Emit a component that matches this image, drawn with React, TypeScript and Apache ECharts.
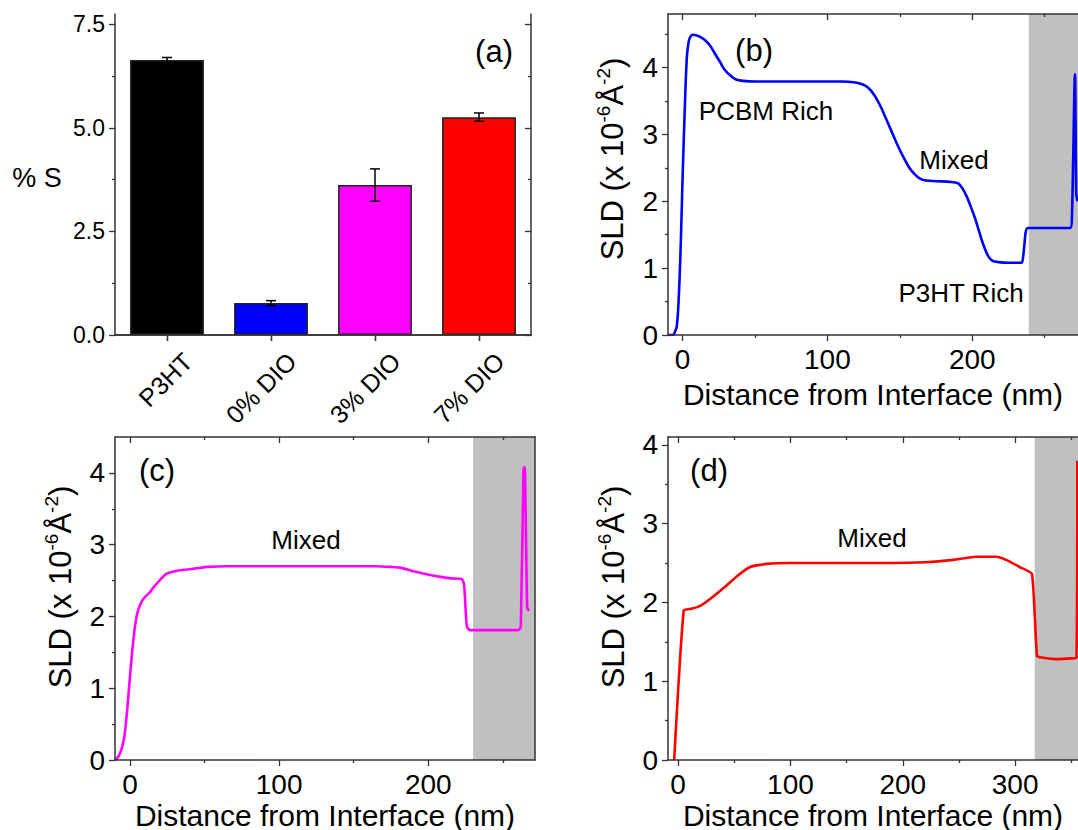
import React, { useEffect, useRef } from "react";
import * as echarts from "echarts";

const FONT = "'Liberation Sans', Arial, Helvetica, sans-serif";
const AXIS_COLOR = "#333333";

// ---- (a) sulfur content of the films ----
const samples = ["P3HT", "0% DIO", "3% DIO", "7% DIO"];
const sulfurPct = [6.64, 0.77, 3.62, 5.26];
const sulfurErr = [0.06, 0.06, 0.39, 0.1];
const barColors = ["#000000", "#0000ff", "#ff00ff", "#ff0000"];
const pctTicks = [0, 2.5, 5, 7.5];
const pctMinor = [1.25, 3.75, 6.25];

// ---- (b) SLD depth profile, 0% DIO ----
const depthB = [
  -10, -6.5, -5, -4, -3, -2, -1, 0, 1, 2, 3, 4, 5, 7, 10, 12, 15, 19, 22, 26,
  29, 33, 37, 42, 50, 80, 110, 118, 124, 128, 132, 136, 140, 144, 148, 152, 156, 160, 164, 168,
  175, 185, 190, 193, 196, 199, 202, 205, 208, 211, 214, 218, 225, 234, 235, 236, 237, 238.5,
  250, 267.5, 268.8, 270.9, 271.8, 272.8,
];
const sldB = [
  0, 0, 0.06, 0.12, 0.38, 0.85, 1.5, 2.3, 3.0, 3.65, 4.15, 4.35, 4.44, 4.49, 4.48, 4.46, 4.42, 4.33, 4.22, 4.08,
  3.97, 3.88, 3.82, 3.8, 3.79, 3.79, 3.79, 3.78, 3.75, 3.7, 3.6, 3.45, 3.26, 3.06, 2.86, 2.68, 2.52, 2.41, 2.34, 2.31,
  2.3, 2.29, 2.27, 2.2, 2.08, 1.92, 1.74, 1.53, 1.33, 1.18, 1.11, 1.09, 1.08, 1.08, 1.15, 1.35, 1.55, 1.6,
  1.6, 1.6, 1.75, 3.9, 2.1, 2.0,
];
const substrateB = [239, 273];

// ---- (c) SLD depth profile, 3% DIO ----
const depthC = [
  -10, -8, -6.5, -5, -3.5, -2, -1, 0, 1.2, 2.3, 3.4, 4.5, 5.6, 7, 8.5, 11, 13.5, 16, 19, 22,
  25, 30, 36, 44, 52, 65, 100, 140, 165, 175, 181, 190, 203, 215, 222.4, 224, 225.8, 228, 260.4, 262,
  263.8, 264.6, 265.4, 266.3, 267.5,
];
const sldC = [
  0, 0.04, 0.1, 0.2, 0.36, 0.66, 0.9, 1.15, 1.44, 1.67, 1.86, 2.0, 2.09, 2.17, 2.23, 2.29, 2.34, 2.41, 2.48, 2.55,
  2.6, 2.63, 2.65, 2.67, 2.69, 2.7, 2.7, 2.7, 2.7, 2.69, 2.68, 2.63, 2.57, 2.53, 2.52, 2.44, 1.86, 1.81, 1.81, 1.86,
  4.06, 4.08, 3.2, 2.12, 2.08,
];
const substrateC = [230, 271.5];

// ---- (d) SLD depth profile, 7% DIO ----
const depthD = [
  -3.5, 5, 12, 20, 29, 41, 53, 64, 79, 100, 190, 220, 245, 265, 283, 292, 304, 315, 319.5, 324, 337, 350, 354.6, 355.4,
];
const sldD = [
  0, 1.9, 1.92, 1.96, 2.05, 2.19, 2.34, 2.45, 2.49, 2.5, 2.5, 2.51, 2.54, 2.58, 2.58, 2.54, 2.45, 2.36, 1.32, 1.3, 1.28, 1.29, 1.3, 3.8,
];
const substrateD = [317.5, 356];

// tick values
const depthTicks = [0, 100, 200];
const depthMinor = [50, 150, 250];
const depthTicksD = [0, 100, 200, 300];
const depthMinorD = [50, 150, 250, 350];
const sldTicks = [0, 1, 2, 3, 4];
const sldMinorB = [0.5, 1.5, 2.5, 3.5, 4.5];
const sldMinorCD = [0.5, 1.5, 2.5, 3.5];

const DEPTH_TITLE = "Distance from Interface (nm)";
const SLD_TITLE = "{a|SLD (x 10}{s|-6}{a|Å}{s|-2}{a|)}";

const tickStyle = { color: AXIS_COLOR, width: 1.3 };

type AxisOpts = {
  len?: number;
  inside?: boolean;
  line?: boolean;
  labels?: boolean;
  labelSize?: number;
  formatter?: (v: number) => string;
  name?: string;
  nameGap?: number;
};

function valAxis(grid: number, position: string, min: number, max: number, ticks: number[], o: AxisOpts) {
  const ax: any = {
    type: "value",
    gridIndex: grid,
    position,
    min,
    max,
    z: 5,
    axisLine: { show: !!o.line, onZero: false, lineStyle: { color: AXIS_COLOR, width: 1.5 } },
    axisTick: ticks.length
      ? { show: true, inside: !!o.inside, length: o.len ?? 6, customValues: ticks, lineStyle: tickStyle }
      : { show: false },
    axisLabel: o.labels
      ? {
          show: true,
          customValues: ticks,
          fontSize: o.labelSize ?? 28,
          fontFamily: FONT,
          color: "#000",
          margin: 10,
          formatter: o.formatter,
        }
      : { show: false },
    splitLine: { show: false },
    minorTick: { show: false },
  };
  if (o.name) {
    ax.name = o.name;
    ax.nameLocation = "middle";
    ax.nameGap = o.nameGap;
    ax.nameTextStyle = { fontSize: 30, fontFamily: FONT, color: "#000" };
  }
  return ax;
}

function buildOption() {
  const grids = [
    { left: 115, top: 14, width: 416, height: 321 },
    { left: 668, top: 14, width: 410, height: 321 },
    { left: 115, top: 437, width: 420, height: 323 },
    { left: 668, top: 437, width: 410, height: 323 },
  ].map((g) => ({ ...g, outerBoundsMode: "none", containLabel: false }));

  const xAxes: any[] = [];
  const yAxes: any[] = [];

  // (a) category axes, bottom and mirrored top
  const catAxis = (position: string, inside: boolean) => ({
    type: "category",
    gridIndex: 0,
    position,
    data: samples,
    z: 5,
    axisLine: { show: true, lineStyle: { color: AXIS_COLOR, width: 1.5 } },
    axisTick: { show: true, alignWithLabel: true, inside, length: 6, lineStyle: tickStyle },
    axisLabel: { show: false },
    splitLine: { show: false },
  });
  xAxes.push(catAxis("bottom", false), catAxis("top", true));
  const fmt1 = (v: number) => v.toFixed(1);
  yAxes.push(
    valAxis(0, "left", 0, 7.75, pctTicks, { line: true, labels: true, labelSize: 23, formatter: fmt1 }),
    valAxis(0, "left", 0, 7.75, pctMinor, { len: 3 }),
    valAxis(0, "right", 0, 7.75, pctTicks, { line: true, inside: true }),
    valAxis(0, "right", 0, 7.75, pctMinor, { len: 3, inside: true })
  );

  // depth-profile panels
  const panels = [
    { grid: 1, xMin: -10, xMax: 273, yMax: 4.8, xt: depthTicks, xm: depthMinor, ym: sldMinorB, right: false, gap: 44 },
    { grid: 2, xMin: -10, xMax: 271.5, yMax: 4.5, xt: depthTicks, xm: depthMinor, ym: sldMinorCD, right: true, gap: 40 },
    { grid: 3, xMin: -9, xMax: 356, yMax: 4.1, xt: depthTicksD, xm: depthMinorD, ym: sldMinorCD, right: false, gap: 40 },
  ];
  const idx: { x: number; y: number }[] = [];
  panels.forEach((p) => {
    const xi = xAxes.length;
    xAxes.push(
      valAxis(p.grid, "bottom", p.xMin, p.xMax, p.xt, { line: true, labels: true, name: DEPTH_TITLE, nameGap: p.gap }),
      valAxis(p.grid, "bottom", p.xMin, p.xMax, p.xm, { len: 3 }),
      valAxis(p.grid, "top", p.xMin, p.xMax, p.xt, { line: true, inside: true }),
      valAxis(p.grid, "top", p.xMin, p.xMax, p.xm, { len: 3, inside: true })
    );
    const yi = yAxes.length;
    yAxes.push(
      valAxis(p.grid, "left", 0, p.yMax, sldTicks, { line: true, labels: true }),
      valAxis(p.grid, "left", 0, p.yMax, p.ym, { len: 3 })
    );
    if (p.right) yAxes.push(valAxis(p.grid, "right", 0, p.yMax, [], { line: true }));
    idx.push({ x: xi, y: yi });
  });

  const profile = (i: number, xs: number[], ys: number[], color: string, shade: number[], smooth: number) => ({
    type: "line",
    xAxisIndex: idx[i].x,
    yAxisIndex: idx[i].y,
    data: xs.map((x, k) => [x, ys[k]]),
    showSymbol: false,
    symbol: "none",
    smooth,
    z: 2,
    lineStyle: { color, width: 2.6 },
    markArea: {
      silent: true,
      itemStyle: { color: "#c0c0c0", borderWidth: 0 },
      data: [[{ xAxis: shade[0] }, { xAxis: shade[1] }]],
    },
  });

  const series: any[] = [
    {
      type: "bar",
      xAxisIndex: 0,
      yAxisIndex: 0,
      barWidth: "71%",
      data: sulfurPct.map((v, i) => ({
        value: v,
        itemStyle: { color: barColors[i], borderColor: "#222", borderWidth: 1.5 },
      })),
    },
    {
      type: "custom",
      xAxisIndex: 0,
      yAxisIndex: 0,
      z: 4,
      encode: { x: 0, y: [1, 2] },
      data: sulfurPct.map((v, i) => [i, v - sulfurErr[i], v + sulfurErr[i]]),
      renderItem: (_params: any, api: any) => {
        const lo = api.coord([api.value(0), api.value(1)]);
        const hi = api.coord([api.value(0), api.value(2)]);
        const cap = 5;
        const st = { stroke: "#000", lineWidth: 1.5 };
        return {
          type: "group",
          children: [
            { type: "line", shape: { x1: lo[0], y1: lo[1], x2: hi[0], y2: hi[1] }, style: st },
            { type: "line", shape: { x1: lo[0] - cap, y1: lo[1], x2: lo[0] + cap, y2: lo[1] }, style: st },
            { type: "line", shape: { x1: hi[0] - cap, y1: hi[1], x2: hi[0] + cap, y2: hi[1] }, style: st },
          ],
        };
      },
    },
    profile(0, depthB, sldB, "#0000ff", substrateB, 0.3),
    profile(1, depthC, sldC, "#ff00ff", substrateC, 0.2),
    profile(2, depthD, sldD, "#ff0000", substrateD, 0.15),
  ];

  return {
    animation: false,
    backgroundColor: "#ffffff",
    textStyle: { fontFamily: FONT, color: "#000" },
    grid: grids,
    xAxis: xAxes,
    yAxis: yAxes,
    series,
  };
}

const txt = (text: string, x: number, y: number, size: number) => ({
  type: "text",
  x,
  y,
  z: 10,
  style: { text, fontSize: size, fontFamily: FONT, fill: "#000", align: "center", verticalAlign: "middle" },
});

const sldTitle = (x: number, y: number) => ({
  type: "text",
  x,
  y,
  z: 10,
  rotation: Math.PI / 2,
  style: {
    text: SLD_TITLE,
    align: "center",
    verticalAlign: "middle",
    fill: "#000",
    rich: {
      a: { fontSize: 31, fontFamily: FONT, lineHeight: 36, fill: "#000" },
      s: { fontSize: 19, fontFamily: FONT, lineHeight: 20, verticalAlign: "top", fill: "#000" },
    },
  },
});

export default function App() {
  const ref = useRef<HTMLDivElement>(null);
  useEffect(() => {
    if (!ref.current) return;
    const chart = echarts.init(ref.current, null, { renderer: "svg" });
    chart.setOption(buildOption());

    // rotated sample names under the bars, placed from the category axis scale
    const baseY = chart.convertToPixel({ yAxisIndex: 0 }, 0) as number;
    const sampleLabels = samples.map((s, i) => {
      const px = chart.convertToPixel({ xAxisIndex: 0 }, i) as number;
      return {
        type: "text",
        x: px + 21,
        y: baseY + 22,
        rotation: Math.PI / 4,
        z: 10,
        style: { text: s, fontSize: 25, fontFamily: FONT, fill: "#000", align: "right", verticalAlign: "middle" },
      };
    });

    chart.setOption({
      graphic: [
        ...sampleLabels,
        txt("% S", 37, 178, 27),
        txt("(a)", 494, 51, 31),
        txt("(b)", 754, 50, 31),
        txt("(c)", 157, 470, 31),
        txt("(d)", 709, 470, 31),
        txt("PCBM Rich", 766, 111, 26),
        txt("Mixed", 954, 160, 26),
        txt("P3HT Rich", 961, 293, 26),
        txt("Mixed", 306, 540, 26),
        txt("Mixed", 872, 538, 26),
        sldTitle(612, 159),
        sldTitle(60, 587),
        sldTitle(613, 587),
      ],
    });
    return () => chart.dispose();
  }, []);
  return (
    <div
      ref={ref}
      style={{ position: "absolute", left: 0, top: 0, width: 1078, height: 830, background: "#ffffff" }}
    />
  );
}
